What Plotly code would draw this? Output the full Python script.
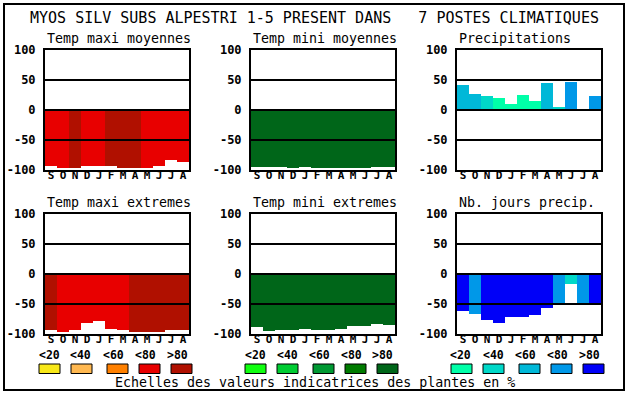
import plotly.graph_objects as go

# ---------------- data ----------------
months = ["S", "O", "N", "D", "J", "F", "M", "A", "M", "J", "J", "A"]
y_tick_vals = [100, 50, 0, -50, -100]
y_tick_text = ["100", "50", "0", "-50", "-100"]
scale_labels = ["<20", "<40", "<60", "<80", ">80"]

main_title = "MYOS SILV SUBS ALPESTRI 1-5 PRESENT DANS   7 POSTES CLIMATIQUES"
footer = "Echelles des valeurs indicatrices des plantes en %"
panel_titles = ["Temp maxi moyennes", "Temp mini moyennes", "Precipitations",
                "Temp maxi extremes", "Temp mini extremes", "Nb. jours precip."]

tmax_moy = [-94, -96, -96, -94, -93, -94, -96, -96, -96, -93, -83, -87]
tmax_moy_cls = [3, 3, 4, 3, 3, 4, 4, 4, 3, 3, 3, 3]
tmin_moy = [-95, -95, -95, -97, -95, -97, -97, -97, -97, -97, -95, -95]
tmin_moy_cls = [4, 4, 4, 4, 4, 4, 4, 4, 4, 4, 4, 4]
precip = [42, 27, 23, 20, 10, 25, 15, 45, 5, 47, 0, 23]
precip_cls = [2, 2, 1, 0, 0, 0, 0, 2, 1, 3, 0, 3]
tmax_ext = [-94, -96, -94, -82, -78, -92, -94, -96, -96, -96, -94, -94]
tmax_ext_cls = [4, 3, 3, 3, 3, 3, 3, 4, 4, 4, 4, 4]
tmin_ext = [-88, -95, -93, -93, -92, -93, -93, -92, -87, -87, -83, -85]
tmin_ext_cls = [4, 4, 4, 4, 4, 4, 4, 4, 4, 4, 4, 4]
nb_jours = [-62, -66, -76, -81, -71, -72, -68, -56, -50, -16, -50, -48]
nb_jours_cls = [4, 3, 4, 4, 4, 4, 4, 4, 3, 1, 3, 4]

# ---------------- styles ----------------
red_scale = ["#F8E818", "#FFB850", "#FF8000", "#E80000", "#B01000"]
green_scale = ["#10FF10", "#00CC33", "#009933", "#007B00", "#006619"]
blue_scale = ["#00FFA8", "#00D8C8", "#00B8D8", "#0098E8", "#0000F8"]

W, H = 630, 394
PANEL_LEFT = [45, 251, 457]
PANEL_W = 144
ROWS = [(50, 170), (214, 334)]
MONO = "DejaVu Sans Mono"


def fx(p):
    return p / W


def fy(p):
    return 1 - p / H


series = [
    (tmax_moy, tmax_moy_cls, red_scale),
    (tmin_moy, tmin_moy_cls, green_scale),
    (precip, precip_cls, blue_scale),
    (tmax_ext, tmax_ext_cls, red_scale),
    (tmin_ext, tmin_ext_cls, green_scale),
    (nb_jours, nb_jours_cls, blue_scale),
]

fig = go.Figure()
layout = dict(
    template="none",
    width=W, height=H, autosize=False,
    margin=dict(l=0, r=0, t=0, b=0, pad=0),
    paper_bgcolor="white", plot_bgcolor="white",
    showlegend=False, bargap=0,
    shapes=[], annotations=[],
)

x_idx = list(range(len(months)))
for i, (vals, cls, pal) in enumerate(series):
    n = i + 1
    r, c = divmod(i, 3)
    xa = "x" if n == 1 else f"x{n}"
    ya = "y" if n == 1 else f"y{n}"
    fig.add_trace(go.Bar(
        x=x_idx, y=vals, width=1,
        marker=dict(color=[pal[k] for k in cls], line=dict(width=0)),
        xaxis=xa, yaxis=ya, hoverinfo="skip",
    ))
    left = PANEL_LEFT[c]
    top, bot = ROWS[r]
    layout["xaxis" if n == 1 else f"xaxis{n}"] = dict(
        domain=[fx(left), fx(left + PANEL_W)], anchor=ya, automargin=False,
        range=[-0.5, len(months) - 0.5], tickvals=x_idx, ticktext=months,
        showgrid=False, zeroline=False, showline=True, mirror=True,
        linecolor="black", linewidth=2, layer="above traces",
        ticks="", ticklabelstandoff=-6,
        tickfont=dict(family=MONO, size=11, color="black", weight="bold"),
        fixedrange=True,
    )
    layout["yaxis" if n == 1 else f"yaxis{n}"] = dict(
        domain=[fy(bot), fy(top)], anchor=xa, automargin=False,
        range=[-100, 100], tickvals=y_tick_vals, ticktext=y_tick_text,
        showgrid=False, zeroline=False, showline=True, mirror=True,
        linecolor="black", linewidth=2, layer="above traces",
        ticks="outside", ticklen=5, tickcolor="rgba(0,0,0,0)",
        tickfont=dict(family=MONO, size=12, color="black", weight="bold"),
        fixedrange=True,
    )
    for v in (50, 0, -50):
        layout["shapes"].append(dict(
            type="line", xref=f"{xa} domain", yref=ya, x0=0, x1=1, y0=v, y1=v,
            line=dict(color="black", width=2), layer="above",
        ))
    # panel title
    layout["annotations"].append(dict(
        text=panel_titles[i], xref="paper", yref="paper",
        x=fx(left), y=fy(top - 11.5), xanchor="left", yanchor="middle",
        showarrow=False, font=dict(family=MONO, size=13.3, color="black"),
    ))

# scale legends under each column
label_off = [4, 36, 68, 100, 132]
box_off = [-6, 26, 62, 94, 126]
col_pals = [red_scale, green_scale, blue_scale]
for c in range(3):
    left = PANEL_LEFT[c]
    for k in range(5):
        layout["annotations"].append(dict(
            text=scale_labels[k], xref="paper", yref="paper",
            x=fx(left + label_off[k]), y=fy(354.5), xanchor="center", yanchor="middle",
            showarrow=False, font=dict(family=MONO, size=11.5, color="black", weight="bold"),
        ))
        layout["shapes"].append(dict(
            type="rect", xref="paper", yref="paper",
            x0=fx(left + box_off[k]), x1=fx(left + box_off[k] + 21),
            y0=fy(373.5), y1=fy(364),
            fillcolor=col_pals[c][k], line=dict(color="black", width=1),
        ))

# main title and footer
layout["annotations"].append(dict(
    text=main_title.replace(" ", "&nbsp;"), xref="paper", yref="paper",
    x=fx(314.5), y=fy(18), xanchor="center", yanchor="middle", showarrow=False,
    font=dict(family=MONO, size=15, color="black"),
))
layout["annotations"].append(dict(
    text=footer, xref="paper", yref="paper",
    x=fx(314.5), y=fy(382), xanchor="center", yanchor="middle", showarrow=False,
    font=dict(family=MONO, size=13.3, color="black"),
))

# outer frame
layout["shapes"].append(dict(
    type="rect", xref="paper", yref="paper",
    x0=fx(4), x1=fx(624), y0=fy(390), y1=fy(4),
    line=dict(color="black", width=2), fillcolor="rgba(0,0,0,0)",
))

fig.update_layout(**layout)
fig.write_html(
    "out.html",
    config={"displayModeBar": False},
    post_script="document.body.style.margin='0px';document.body.style.overflow='hidden';",
)
